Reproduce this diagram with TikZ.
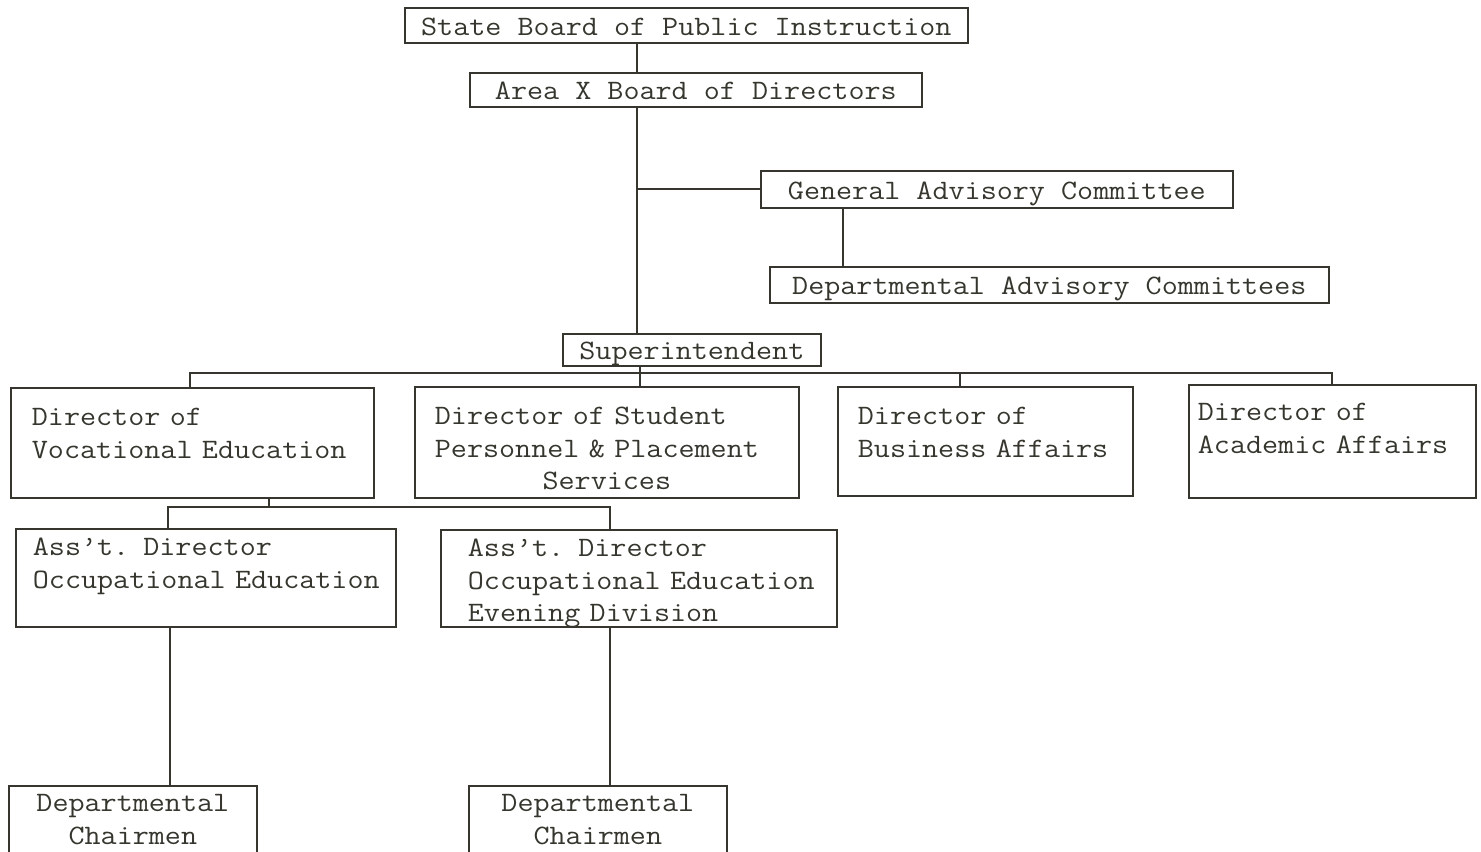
\documentclass[tikz,border=0pt]{standalone}
\usepackage{fontspec}
\usepackage{tikz}
\usetikzlibrary{positioning,calc}
\newfontfamily\orgtt{Latin Modern Mono}[FakeStretch=1.11]
\definecolor{OrgInk}{HTML}{36362F}
\newcommand\orgfont{\orgtt\fontsize{16}{18.4}\selectfont\hyphenpenalty=10000\exhyphenpenalty=10000}
\tikzset{
  orgbox/.style={draw=OrgInk,line width=1pt,text=OrgInk,font=\orgfont,anchor=north west,inner ysep=0pt},
  onebox/.style={orgbox,inner xsep=0pt,text height=0.46cm,text depth=0.06cm},
  leftbox/.style={orgbox,align=left},
  midbox/.style={orgbox,align=center,inner xsep=0pt},
  link/.style={draw=OrgInk,line width=1pt}
}
\begin{document}
\begin{tikzpicture}[x=0.02cm,y=-0.02cm]
    \useasboundingbox (0,0) rectangle (1481,852);
    \clip (0,0) rectangle (1481,852);
    \node[onebox,minimum width=11.26cm,minimum height=0.7cm] (sbpi) at (404,7)
      {State Board of Public Instruction};
    \node[onebox,minimum width=9.04cm,minimum height=0.68cm] (areax) at (469,72)
      {Area X Board of Directors};
    \node[onebox,minimum width=9.44cm,minimum height=0.74cm] (gac) at (760,170)
      {General Advisory Committee};
    \node[onebox,minimum width=11.18cm,minimum height=0.72cm] (dac) at (769,266)
      {Departmental Advisory Committees};
    \node[onebox,minimum width=5.16cm,minimum height=0.64cm] (supt) at (562,333)
      {Superintendent};
    \node[leftbox,inner xsep=0.42cm,text width=6.42cm,text height=0.76cm,text depth=1.44cm] (dvoc) at (10,387)
      {Director of\\\mbox{Vocational Education}};
    \node[leftbox,inner xsep=0.4cm,text width=6.88cm,text height=0.76cm,text depth=1.46cm] (dstud) at (414,386)
      {Director of Student\\\mbox{Personnel \& Placement}\\\makebox[\linewidth]{Services}};
    \node[leftbox,inner xsep=0.4cm,text width=5.1cm,text height=0.76cm,text depth=1.42cm] (dbus) at (837,386)
      {Director of\\\mbox{Business Affairs}};
    \node[leftbox,inner xsep=0.18cm,text width=5.38cm,text height=0.72cm,text depth=1.54cm] (dacad) at (1188,384)
      {Director of\\\mbox{Academic Affairs}};
    \node[leftbox,inner xsep=0.34cm,text width=6.92cm,text height=0.54cm,text depth=1.42cm] (asst1) at (15,528)
      {Ass’t. Director\\\mbox{Occupational Education}};
    \node[leftbox,inner xsep=0.54cm,text width=6.84cm,text height=0.54cm,text depth=1.4cm] (asst2) at (440,529)
      {Ass’t. Director\\\mbox{Occupational Education}\\\mbox{Evening Division}};
    \node[midbox,text width=4.96cm,text height=0.52cm,text depth=1.5cm] (chair1) at (8,785)
      {Departmental\\Chairmen};
    \node[midbox,text width=5.16cm,text height=0.52cm,text depth=1.5cm] (chair2) at (468,785)
      {Departmental\\Chairmen};
    \coordinate (spine) at (637,0);
    \coordinate (advx) at (843,0);
    \coordinate (studx) at (640,0);
    \coordinate (bar) at (640,373);
    \coordinate (vocx) at (190,0);
    \coordinate (busx) at (960,0);
    \coordinate (acadx) at (1332,0);
    \coordinate (vocbar) at (269,507);
    \coordinate (a1x) at (168,0);
    \coordinate (a2x) at (610,0);
    \coordinate (c1x) at (170,0);
    \draw[link] (sbpi.south -| spine)--(areax.north -| spine);
    \draw[link] (areax.south -| spine)--(supt.north -| spine);
    \draw[link] (spine |- gac.west)--(gac.west);
    \draw[link] (gac.south -| advx)--(dac.north -| advx);
    \draw[link] (supt.south -| studx)--(dstud.north -| studx);
    \draw[link] (dvoc.north -| vocx) |- (bar) -| (dacad.north -| acadx);
    \draw[link] (bar -| busx)--(dbus.north -| busx);
    \draw[link] (dvoc.south -| vocbar)--(vocbar);
    \draw[link] (asst1.north -| a1x) |- (vocbar) -| (asst2.north -| a2x);
    \draw[link] (asst1.south -| c1x)--(chair1.north -| c1x);
    \draw[link] (asst2.south -| a2x)--(chair2.north -| a2x);
  \end{tikzpicture}
\end{document}
